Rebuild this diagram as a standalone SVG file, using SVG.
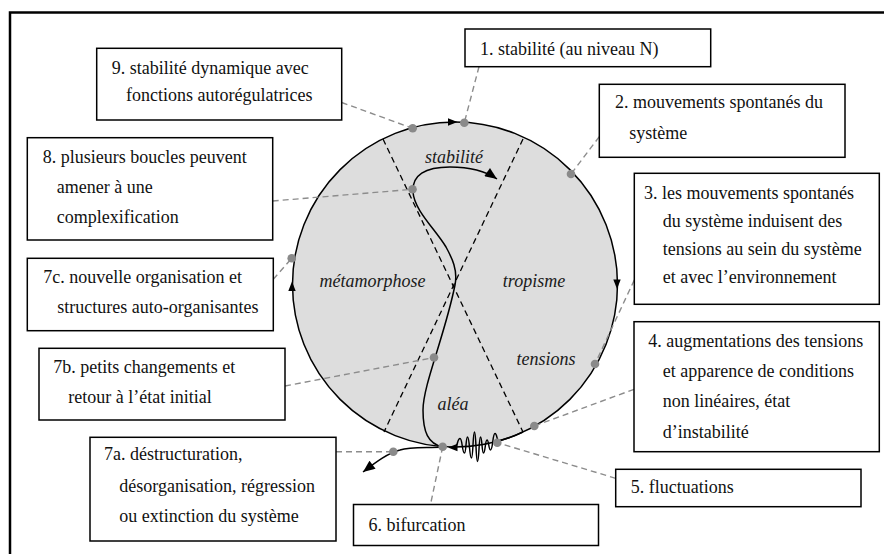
<svg xmlns="http://www.w3.org/2000/svg" width="884" height="554" viewBox="0 0 884 554">
  <style>
    .box { fill: #ffffff; stroke: #000000; stroke-width: 1.5; }
    .txt { font-family: 'Liberation Serif', 'Times New Roman', Times, 'Nimbus Roman', 'DejaVu Serif', serif; font-size: 18px; fill: #111111; }
    .zone { font-family: 'Liberation Serif', 'Times New Roman', Times, 'Nimbus Roman', 'DejaVu Serif', serif; font-size: 18px; font-style: italic; fill: #1a1a1a; text-anchor: middle; }
    .lead { fill: none; stroke: #8c8c8c; stroke-width: 1.4; stroke-dasharray: 6 4; }
    .axis { fill: none; stroke: #000000; stroke-width: 1.3; stroke-dasharray: 6 4; }
    .path { fill: none; stroke: #000000; stroke-width: 1.5; }
    .dot { fill: #8a8a8a; }
    .head { fill: #000000; }
  </style>
  <defs>
    <marker id="arrow" viewBox="0 0 12 10" refX="12" refY="5" markerWidth="13" markerHeight="10" markerUnits="userSpaceOnUse" orient="auto">
      <path d="M0,0 L12,5 L0,10 z" fill="#000000"/>
    </marker>
  </defs>

  <rect width="884" height="554" fill="#ffffff"/>

  <!-- outer frame -->
  <path d="M10 554 V12.5 H884" fill="none" stroke="#000000" stroke-width="2.5"/>

  <!-- cycle disc with its four sectors -->
  <g id="cycle">
    <circle cx="455" cy="284.5" r="162.5" fill="#dddddd" stroke="#000000" stroke-width="1.5"/>
    <path class="axis" d="M383 139 L523 432"/>
    <path class="axis" d="M523 139 L384 432"/>
    <!-- direction of travel round the disc -->
    <polygon class="head" points="457.5,122 448,118.3 448,125.7"/>
    <polygon class="head" points="617,289 613.3,279.5 620.7,279.5"/>
    <polygon class="head" points="292,281.5 288.3,291 295.7,291"/>
    <polygon class="head" points="448,447.5 457.5,443.8 457.5,451.2"/>
    <text class="zone" font-family="Liberation Serif, serif" x="454" y="162.5">stabilité</text>
    <text class="zone" font-family="Liberation Serif, serif" x="372.5" y="287">métamorphose</text>
    <text class="zone" font-family="Liberation Serif, serif" x="534" y="287">tropisme</text>
    <text class="zone" font-family="Liberation Serif, serif" x="546" y="365">tensions</text>
    <text class="zone" font-family="Liberation Serif, serif" x="453" y="410">aléa</text>
  </g>

  <!-- trajectories -->
  <g id="trajectories">
    <path class="path" stroke-width="2.2" d="M499 441 A162.5 162.5 0 0 0 523 432"/>
    <path class="path" d="M455 447 C457.75 447 457.25 438.5 460 438.5 C462.5 438.5 462 453 464.5 453 C466.15 453 465.85 437 467.5 437 C469.7 437 469.3 458 471.5 458 C473.15 458 472.85 432 474.5 432 C476.15 432 475.85 461.5 477.5 461.5 C479.15 461.5 478.85 437 480.5 437 C482.15 437 481.85 453 483.5 453 C485.4 453 485.1 440 487 440 C488.9 440 488.6 450 490.5 450 C493 450 492.5 433.5 495 433.5 C497.2 433.5 497 442 499 442"/>
    <path class="path" marker-end="url(#arrow)" d="M443 447 C428 444 423 432 423 410 C423 385 445 335 455 285 C458 270 452 258 446 247 C436 230 414 210 413 192 C412 175 425 167 450 167 C468 167 484 170 497 179"/>
    <path class="path" marker-end="url(#arrow)" d="M443 447 C425 448 410 447 400 450 C388 453 376 462 363 472"/>
  </g>

  <!-- leader lines -->
  <g id="connectors">
    <path class="lead" d="M341.7 102.5 L412.7 128.3"/>
    <path class="lead" d="M479 66.7 L464.3 122.7"/>
    <path class="lead" d="M599.3 136.7 L571 174"/>
    <path class="lead" d="M634.3 280 L595 364"/>
    <path class="lead" d="M634 389.3 L534.3 426"/>
    <path class="lead" d="M615.7 478.3 L497.3 442.7"/>
    <path class="lead" d="M442.7 446.7 L430.5 504.5"/>
    <path class="lead" d="M336 451.7 L393.3 451.7"/>
    <path class="lead" d="M285 386 L434 357.5"/>
    <path class="lead" d="M273.3 279.3 L291.7 258.3"/>
    <path class="lead" d="M272.7 201 L412.5 189.3"/>
  </g>

  <!-- marked points on the cycle -->
  <g id="points">
    <circle class="dot" cx="412.7" cy="128.3" r="4.3"/>
    <circle class="dot" cx="464.3" cy="122.7" r="4.3"/>
    <circle class="dot" cx="571" cy="174" r="4.3"/>
    <circle class="dot" cx="595" cy="364" r="4.3"/>
    <circle class="dot" cx="534.3" cy="426" r="4.3"/>
    <circle class="dot" cx="497.3" cy="442.7" r="4.3"/>
    <circle class="dot" cx="442.7" cy="446.7" r="4.3"/>
    <circle class="dot" cx="393.3" cy="451.7" r="4.3"/>
    <circle class="dot" cx="434" cy="357.5" r="4.3"/>
    <circle class="dot" cx="412.5" cy="189.3" r="4.3"/>
    <circle class="dot" cx="291.7" cy="258.3" r="4.3"/>
  </g>

  <g id="node-1">
    <rect class="box" x="465" y="29" width="245.7" height="37.7"/>
    <text class="txt" x="480" y="55">1. stabilité (au niveau N)</text>
  </g>
  <g id="node-2">
    <rect class="box" x="599.3" y="84.3" width="245.7" height="73"/>
    <text class="txt" x="615" y="107.5">2. mouvements spontanés du</text>
    <text class="txt" x="629.3" y="138.5">système</text>
  </g>
  <g id="node-3">
    <rect class="box" x="634.3" y="173.3" width="245" height="131"/>
    <text class="txt" x="644" y="198.5">3. les mouvements spontanés</text>
    <text class="txt" x="662.7" y="226.7">du système induisent des</text>
    <text class="txt" x="662.7" y="254.8">tensions au sein du système</text>
    <text class="txt" x="662.7" y="283">et avec l’environnement</text>
  </g>
  <g id="node-4">
    <rect class="box" x="634" y="321.7" width="245.3" height="130"/>
    <text class="txt" x="648.3" y="346.7">4. augmentations des tensions</text>
    <text class="txt" x="662.7" y="376.5">et apparence de conditions</text>
    <text class="txt" x="662.7" y="407">non linéaires, état</text>
    <text class="txt" x="662.7" y="438">d’instabilité</text>
  </g>
  <g id="node-5">
    <rect class="box" x="615.7" y="469.3" width="245.3" height="37.4"/>
    <text class="txt" x="630.7" y="492.7">5. fluctuations</text>
  </g>
  <g id="node-6">
    <rect class="box" x="353.5" y="504.5" width="245" height="41"/>
    <text class="txt" x="368.5" y="531">6. bifurcation</text>
  </g>
  <g id="node-7a">
    <rect class="box" x="90" y="437.3" width="246" height="103.7"/>
    <text class="txt" x="104" y="459.5">7a. déstructuration,</text>
    <text class="txt" x="119.3" y="491.5">désorganisation, régression</text>
    <text class="txt" x="119.3" y="522">ou extinction du système</text>
  </g>
  <g id="node-7b">
    <rect class="box" x="39" y="348.3" width="246" height="71.7"/>
    <text class="txt" x="53.3" y="373.3">7b. petits changements et</text>
    <text class="txt" x="68.3" y="403.3">retour à l’état initial</text>
  </g>
  <g id="node-7c">
    <rect class="box" x="27.3" y="258.3" width="246" height="72.4"/>
    <text class="txt" x="43.3" y="282.7">7c. nouvelle organisation et</text>
    <text class="txt" x="57.3" y="313.3">structures auto-organisantes</text>
  </g>
  <g id="node-8">
    <rect class="box" x="27.3" y="137.7" width="245.4" height="102.3"/>
    <text class="txt" x="42.7" y="162.7">8. plusieurs boucles peuvent</text>
    <text class="txt" x="56.7" y="193.3">amener à une</text>
    <text class="txt" x="56.7" y="223.3">complexification</text>
  </g>
  <g id="node-9">
    <rect class="box" x="96.7" y="48.3" width="245" height="71.7"/>
    <text class="txt" x="111.7" y="74">9. stabilité dynamique avec</text>
    <text class="txt" x="126" y="101.3">fonctions autorégulatrices</text>
  </g>
</svg>
